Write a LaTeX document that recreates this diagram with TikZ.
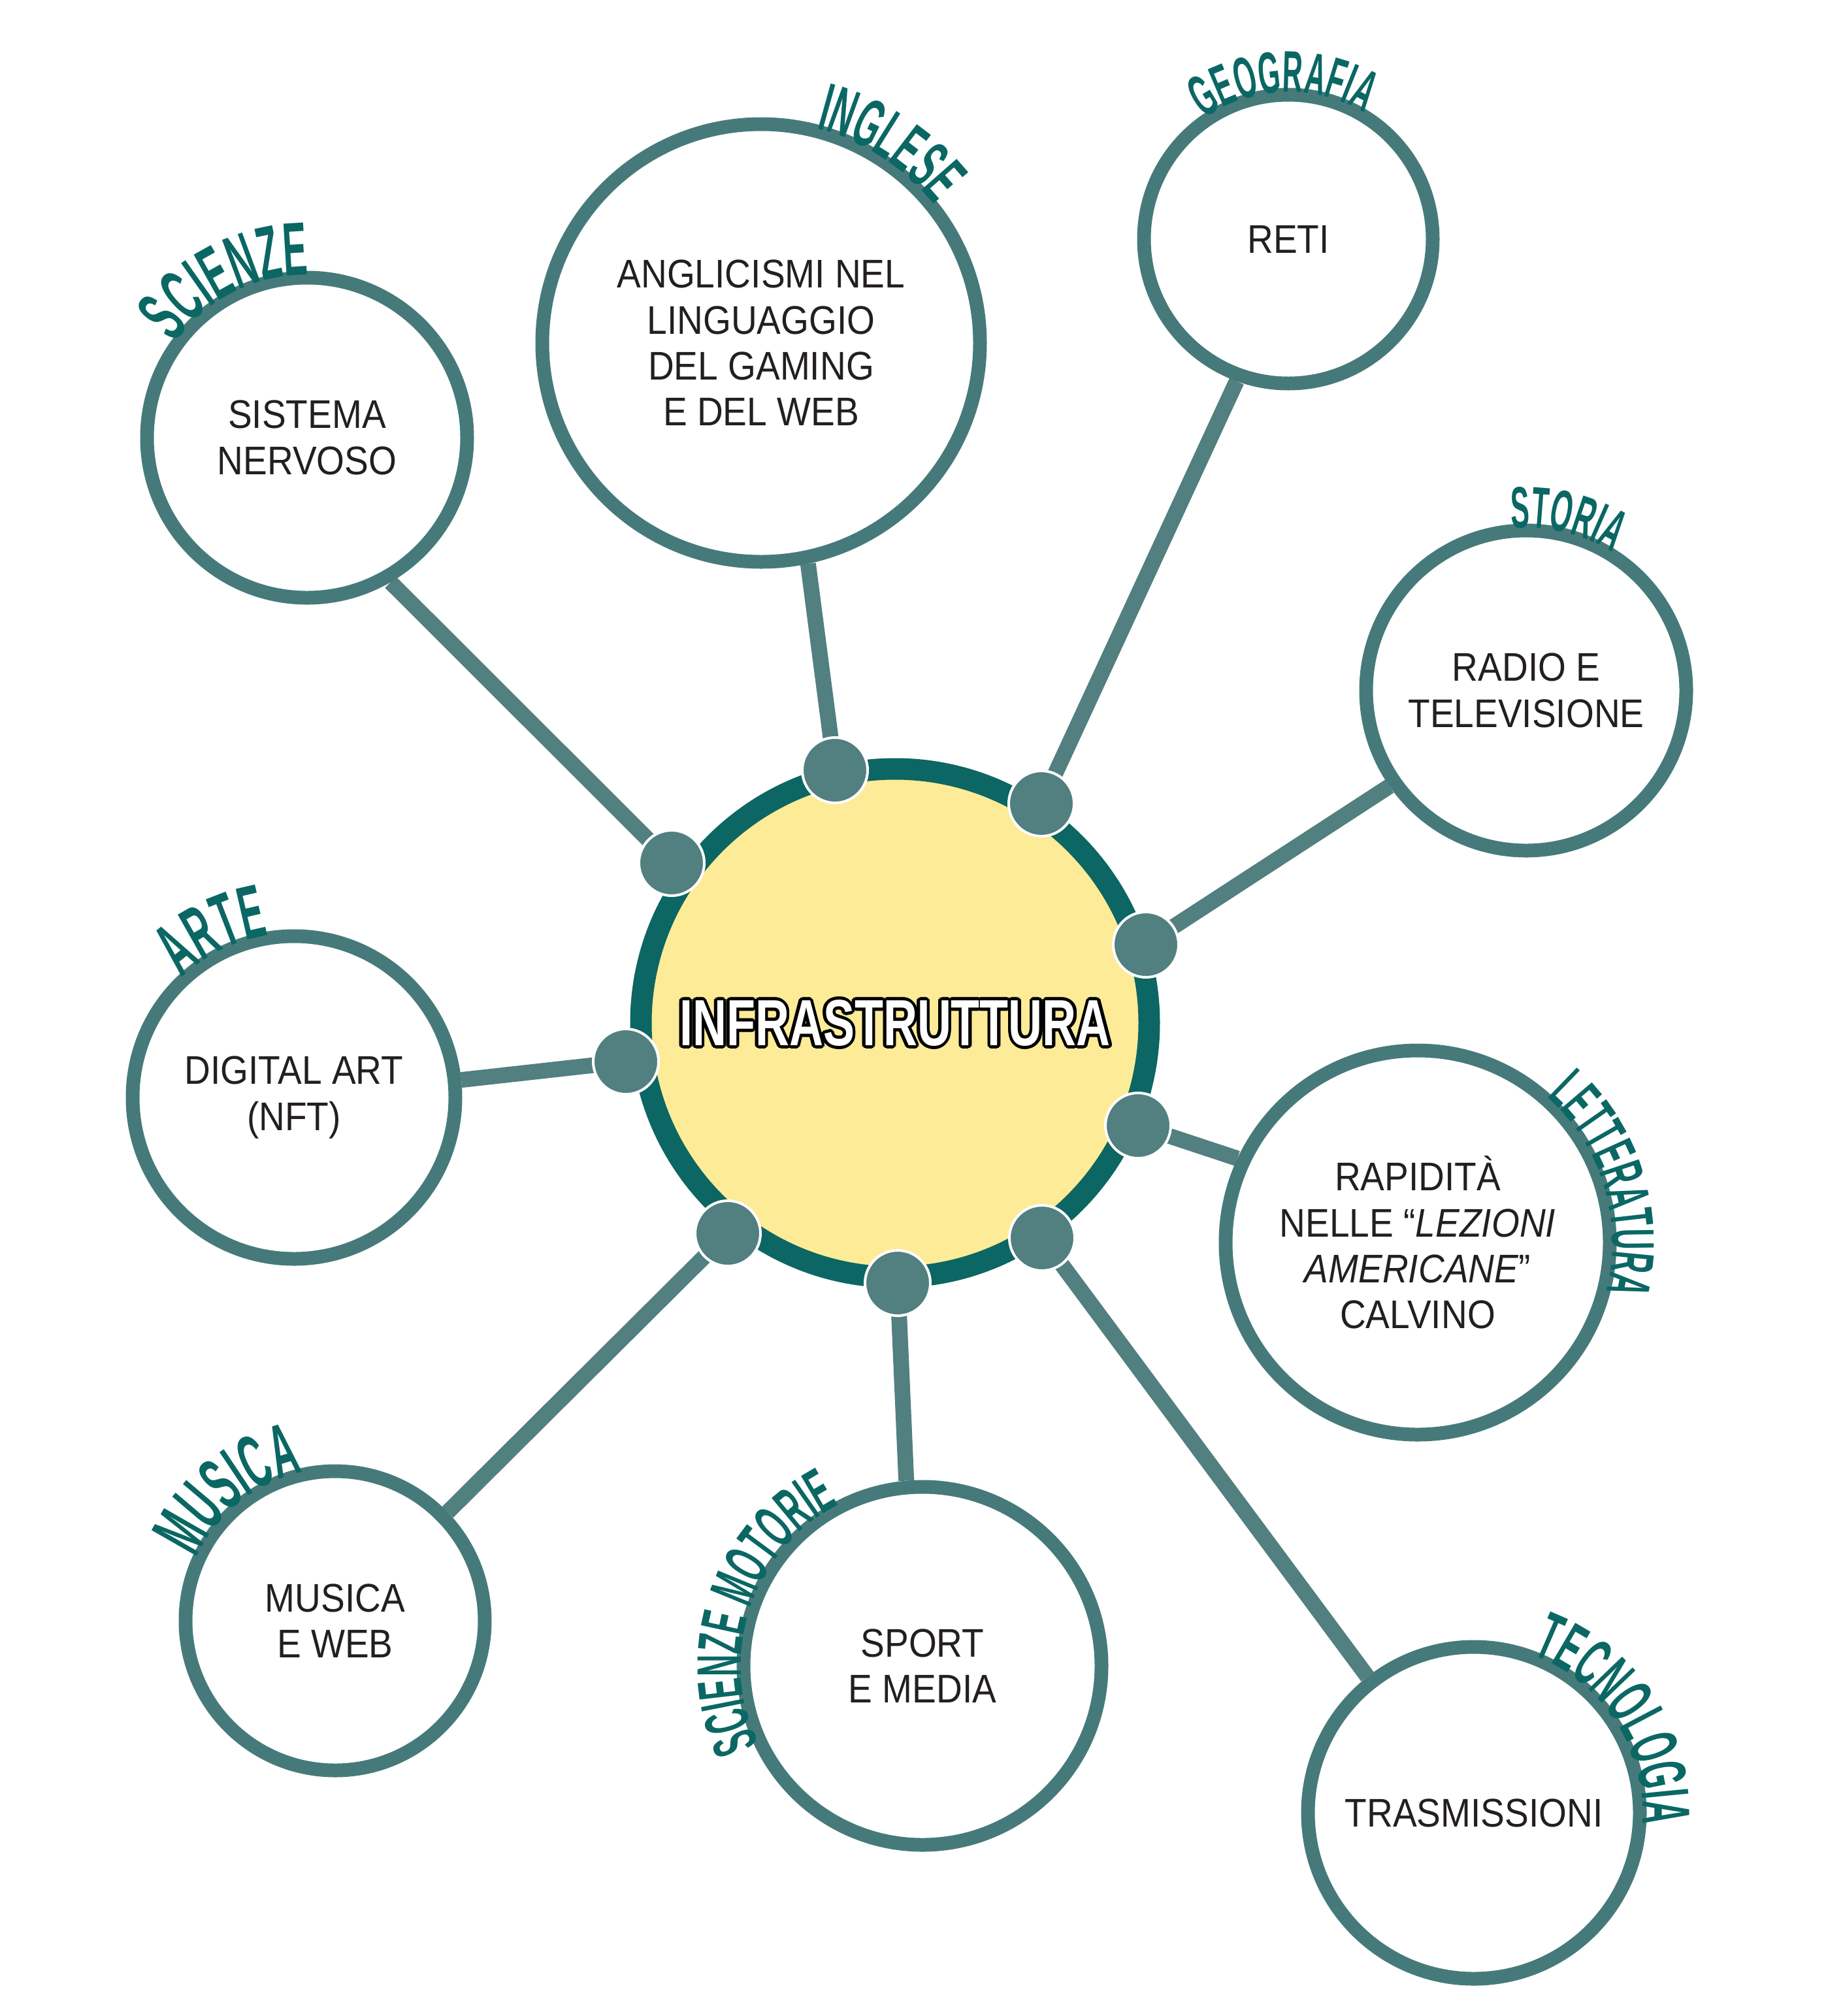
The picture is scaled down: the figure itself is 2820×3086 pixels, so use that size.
\documentclass[tikz,border=0pt]{standalone}
\usepackage{fontspec}
\setmainfont[FakeStretch=0.9]{Liberation Sans}
\newfontfamily\labelfont[FakeStretch=0.48]{Liberation Sans Bold}
\newfontfamily\titlefont[FakeStretch=0.72]{Liberation Sans Bold}
\usetikzlibrary{decorations.text,calc}
\definecolor{ringc}{HTML}{467A7A}
\definecolor{linkc}{HTML}{527F80}
\definecolor{corec}{HTML}{0C6663}
\definecolor{labelc}{HTML}{0A6764}
\definecolor{yellowc}{HTML}{FDEB98}
\definecolor{textc}{HTML}{231F20}
\pgfdeclarelayer{bg}
\pgfsetlayers{bg,main}
\tikzset{
  topic/.style={circle, draw=ringc, line width=5.25pt, fill=white, inner sep=0pt,
    align=center, text=textc, font=\fontsize{15.3}{17.6}\selectfont},
  hub/.style={circle, fill=linkc, draw=white, line width=1pt, minimum size=25pt, inner sep=0pt},
  link/.style={draw=linkc, line width=6pt},
  core/.style={circle, draw=corec, line width=8.25pt, fill=yellowc, minimum size=194.5pt, inner sep=0pt},
  titleback/.style={text=black, font=\titlefont\fontsize{25}{25}\selectfont, inner sep=0pt},
  titlefront/.style={text=white, font=\titlefont\fontsize{25}{25}\selectfont, inner sep=0pt}
}
\newcommand\subjlabel[6]{%
  \path[decorate, decoration={text along path, text align=center,
     text={|\labelfont\fontsize{#5}{#5}\selectfont\color{labelc}|#6}}]
   ($(#1.center)+({#3+#4}:#2)$) arc[start angle={#3+#4}, end angle={#3-#4}, radius=#2];}
\begin{document}
\begin{tikzpicture}[x=0.25pt, y=0.25pt]
\useasboundingbox (0,0) rectangle (2820,-3086);

% central circle
\node[core] (core) at (1370,-1566) {};

% hubs on the ring
\node[hub] (dLU) at (1028,-1321) {};
\node[hub] (dT)  at (1278,-1179) {};
\node[hub] (dTR) at (1594,-1230) {};
\node[hub] (dRU) at (1754,-1446) {};
\node[hub] (dL)  at (958,-1625) {};
\node[hub] (dRL) at (1742,-1723) {};
\node[hub] (dBL) at (1114,-1888) {};
\node[hub] (dB)  at (1374,-1964) {};
\node[hub] (dBR) at (1595,-1895) {};

% topic circles
\node[topic, minimum size=122.5pt] (c1) at (470,-670) {SISTEMA\\NERVOSO};
\node[topic, minimum size=167.5pt] (c2) at (1165,-525) {ANGLICISMI NEL\\LINGUAGGIO\\DEL GAMING\\E DEL WEB};
\node[topic, minimum size=110.5pt] (c3) at (1972,-366) {RETI};
\node[topic, minimum size=122.5pt] (c4) at (2336,-1057) {RADIO E\\TELEVISIONE};
\node[topic, minimum size=123.5pt] (c5) at (450,-1680) {DIGITAL ART\\(NFT)};
\node[topic, minimum size=147pt] (c6) at (2170,-1902) {RAPIDITÀ\\NELLE “\textit{LEZIONI}\\\textit{AMERICANE}”\\CALVINO};
\node[topic, minimum size=114.5pt] (c7) at (513,-2481) {MUSICA\\E WEB};
\node[topic, minimum size=137pt] (c8) at (1412,-2550) {SPORT\\E MEDIA};
\node[topic, minimum size=127pt] (c9) at (2256,-2775) {TRASMISSIONI};

% background and connectors
\begin{pgfonlayer}{bg}
\fill[white] (0,0) rectangle (2820,-3086);
\draw[link] (dLU.center) -- (c1.-60);
\draw[link] (dT.center)  -- (c2.-78);
\draw[link] (dTR.center) -- (c3.-110);
\draw[link] (dRU.center) -- (c4.-145);
\draw[link] (dL.center)  -- (c5.6);
\draw[link] (dRL.center) -- (c6.155);
\draw[link] (dBL.center) -- (c7.44);
\draw[link] (dB.center)  -- (c8.95);
\draw[link] (dBR.center) -- (c9.128);
\end{pgfonlayer}

% title with outline
\foreach \a [count=\i] in {0,30,...,330}
  \node[titleback] (tb\i) at ($(core.center)+(\a:4.8)$) {INFRASTRUTTURA};
\node[titlefront] (title) at (core.center) {INFRASTRUTTURA};

% subject labels
\subjlabel{c1}{249}{117}{60}{28.9}{SCIENZE}
\subjlabel{c2}{339}{57}{50}{26.1}{INGLESE}
\subjlabel{c3}{225}{92}{60}{22.4}{GEOGRAFIA}
\subjlabel{c4}{249}{76.5}{60}{22.4}{STORIA}
\subjlabel{c5}{251}{116}{60}{28.9}{ARTE}
\subjlabel{c6}{298}{17}{60}{23.2}{LETTERATURA}
\subjlabel{c7}{233}{129}{60}{28.9}{MUSICA}
\subjlabel{c8}{278}{161.5}{70}{24.1}{SCIENZE MOTORIE}
\subjlabel{c9}{258}{33}{65}{26}{TECNOLOGIA}
\end{tikzpicture}
\end{document}
